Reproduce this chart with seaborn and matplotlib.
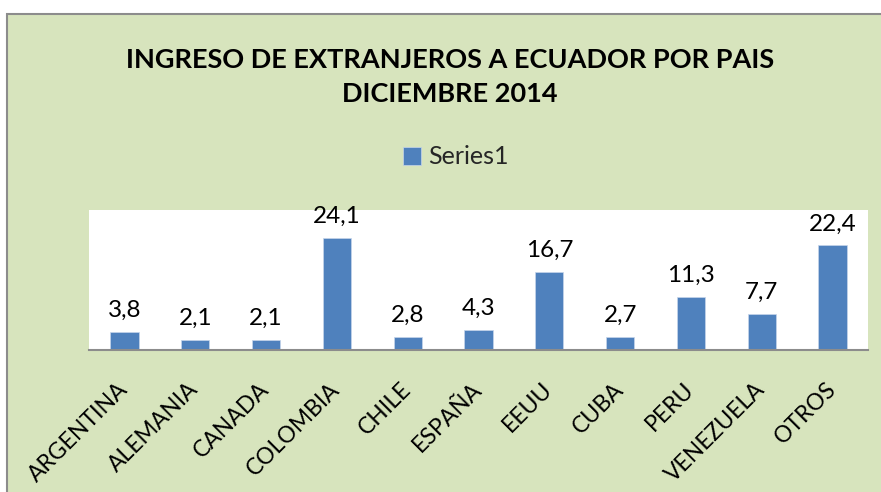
import matplotlib
matplotlib.use("Agg")
import matplotlib.pyplot as plt
from matplotlib.patches import Rectangle
import pandas as pd
import seaborn as sns

paises = ['ARGENTINA', 'ALEMANIA', 'CANADA', 'COLOMBIA', 'CHILE', 'ESPAÑA',
          'EEUU', 'CUBA', 'PERU', 'VENEZUELA', 'OTROS']
valores = [3.8, 2.1, 2.1, 24.1, 2.8, 4.3, 16.7, 2.7, 11.3, 7.7, 22.4]

df = pd.DataFrame({'pais': paises, 'valor': valores})

sns.set_theme(style="white")
plt.rcParams['font.family'] = ['Lato', 'DejaVu Sans']

fig = plt.figure(figsize=(8.81, 4.92), dpi=100)
fig.patch.set_facecolor('white')
# chart area background with gray border
fig.patches.append(Rectangle((7 / 881, -0.01), 1.0, 1 - 14 / 492 + 0.01,
                             transform=fig.transFigure, facecolor='#D7E4BD',
                             edgecolor='#8C8C8C', linewidth=1.5, zorder=-1))

ax = fig.add_axes([89 / 881, 1 - 350 / 492, (868 - 89) / 881, 140 / 492])
ax.set_zorder(1)
ax.set_facecolor('white')

sns.barplot(data=df, x='pais', y='valor', color='#4F81BD', width=0.4,
            saturation=1, edgecolor='#C6D5EA', linewidth=0.5, ax=ax,
            label='Series1')

ax.set_ylim(0, 30)
ax.set_yticks([])
ax.set_xlabel('')
ax.set_ylabel('')
for s in ['top', 'left', 'right']:
    ax.spines[s].set_visible(False)
ax.spines['bottom'].set_color('#8C8C8C')
ax.spines['bottom'].set_linewidth(1.5)

ax.bar_label(ax.containers[0],
             labels=[f"{v:.1f}".replace('.', ',') for v in valores],
             padding=8, fontsize=17.5, color='black')

ax.tick_params(axis='x', length=0, pad=26, labelsize=16.5)
plt.setp(ax.get_xticklabels(), rotation=45, ha='right', va='center',
         rotation_mode='anchor', color='black')

fig.text(450 / 881, 1 - 77 / 492,
         'INGRESO DE EXTRANJEROS A ECUADOR POR PAIS\nDICIEMBRE 2014',
         ha='center', va='center', fontsize=19.5, fontweight='bold',
         linespacing=1.45, color='black')

leg = ax.legend(loc='center', bbox_to_anchor=(456 / 881, 1 - 157 / 492),
                bbox_transform=fig.transFigure, frameon=False, fontsize=18,
                handlelength=0.7, handleheight=0.7, handletextpad=0.3)

fig.savefig('out.png', dpi=100)
